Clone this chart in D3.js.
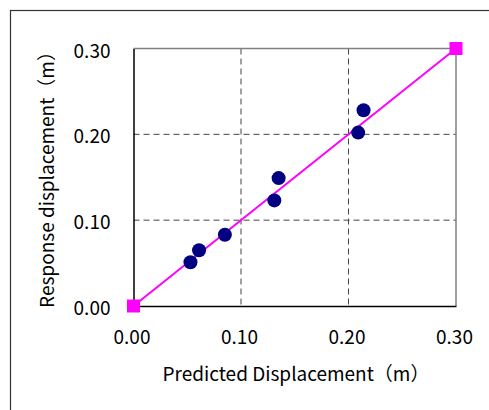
<!DOCTYPE html>
<html>
<head>
    <title>Response vs Predicted Displacement</title>
    <script src="https://d3js.org/d3.v7.min.js"></script>
    <style>
        body { margin: 0; background: #fff; }
        text { font-family: "Noto Sans CJK JP", "DejaVu Sans", sans-serif; fill: #000; }
    </style>
</head>
<body>
<script>
    // measured points
    const predicted = [0.053, 0.061, 0.085, 0.131, 0.135, 0.209, 0.214];
    const response = [0.051, 0.065, 0.083, 0.123, 0.149, 0.202, 0.228];
    // 1:1 reference line
    const refX = [0.0, 0.3];
    const refY = [0.0, 0.3];
    const ticks = [0.0, 0.1, 0.2, 0.3];

    const width = 489, height = 410;
    const plotL = 133.5, plotR = 456, plotT = 48.5, plotB = 306;

    const svg = d3.select("body").append("svg")
        .attr("width", width)
        .attr("height", height);

    // outer chart frame
    svg.append("rect")
        .attr("x", 10.5).attr("y", 10.5)
        .attr("width", 600).attr("height", 600)
        .attr("fill", "none")
        .attr("stroke", "#333")
        .attr("stroke-width", 1.2);

    const x = d3.scaleLinear().domain([0, 0.3]).range([plotL, plotR]);
    const y = d3.scaleLinear().domain([0, 0.3]).range([plotB, plotT]);

    // grid
    svg.selectAll(".vgrid")
        .data(ticks.slice(1, 3))
        .join("line")
        .attr("x1", d => x(d)).attr("x2", d => x(d))
        .attr("y1", plotT).attr("y2", plotB)
        .attr("stroke", "#444").attr("stroke-width", 1)
        .attr("stroke-dasharray", "6,4");
    svg.selectAll(".hgrid")
        .data(ticks.slice(1, 3))
        .join("line")
        .attr("x1", plotL).attr("x2", plotR)
        .attr("y1", d => y(d)).attr("y2", d => y(d))
        .attr("stroke", "#444").attr("stroke-width", 1)
        .attr("stroke-dasharray", "6,4");

    // plot border: top/right gray, left/bottom black
    svg.append("line").attr("x1", plotL).attr("x2", plotR).attr("y1", plotT).attr("y2", plotT)
        .attr("stroke", "#808080").attr("stroke-width", 1.5);
    svg.append("line").attr("x1", plotR).attr("x2", plotR).attr("y1", plotT).attr("y2", plotB)
        .attr("stroke", "#808080").attr("stroke-width", 1.5);

    const xAxis = svg.append("g")
        .attr("transform", `translate(0,${plotB})`)
        .call(d3.axisBottom(x).tickValues(ticks).tickFormat(d3.format(".2f")).tickSize(0).tickPadding(25));
    xAxis.select(".domain").attr("stroke", "#000").attr("stroke-width", 1.5);
    xAxis.selectAll("text").style("font-size", "19px").attr("dx", -2);

    const yAxis = svg.append("g")
        .attr("transform", `translate(${plotL},0)`)
        .call(d3.axisLeft(y).tickValues(ticks).tickFormat(d3.format(".2f")).tickSize(0).tickPadding(23));
    yAxis.select(".domain").attr("stroke", "#000").attr("stroke-width", 1.5);
    yAxis.selectAll("text").style("font-size", "19px").attr("dy", "0.45em");

    // reference line
    const line = d3.line().x(d => x(d[0])).y(d => y(d[1]));
    const refPts = refX.map((v, i) => [v, refY[i]]);
    svg.append("path")
        .datum(refPts)
        .attr("d", line)
        .attr("fill", "none")
        .attr("stroke", "#ff00ff")
        .attr("stroke-width", 2);
    svg.selectAll(".sq")
        .data(refPts)
        .join("rect")
        .attr("x", d => x(d[0]) - 6.5)
        .attr("y", d => y(d[1]) - 6.5)
        .attr("width", 13).attr("height", 13)
        .attr("fill", "#ff00ff");

    // data points
    svg.selectAll(".dot")
        .data(predicted.map((p, i) => ({ x: p, y: response[i] })))
        .join("circle")
        .attr("cx", d => x(d.x))
        .attr("cy", d => y(d.y))
        .attr("r", 7)
        .attr("fill", "#000080");

    // axis titles
    svg.append("text")
        .attr("x", 296).attr("y", 381)
        .attr("text-anchor", "middle")
        .style("font-size", "19px")
        .text("Predicted Displacement（m）");
    svg.append("text")
        .attr("transform", "translate(54,175) rotate(-90)")
        .attr("text-anchor", "middle")
        .style("font-size", "19px")
        .text("Response displacement（m）");
</script>
</body>
</html>
